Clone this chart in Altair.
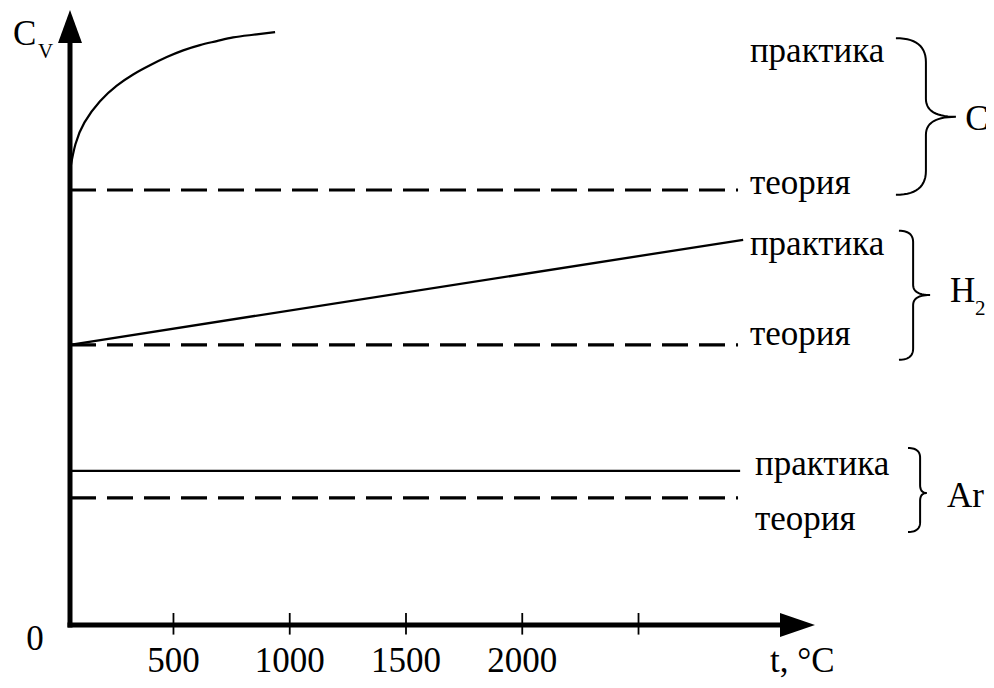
import altair as alt
import pandas as pd

# ---------------- plot geometry (data domain of the drawing) ----------------
T_MIN, T_MAX = 55, 3259        # t axis, °C (origin sits at the vertical axis)
V_MIN, V_MAX = 0, 102.5        # Cv, arbitrary units
W, H = 745, 615

# ---------------- data ----------------
# CO2
co2_prac_t = [55, 76, 111, 184, 257, 326, 399, 472, 541, 614, 687, 756, 829, 937]
co2_prac_v = [75.8, 80.3, 83.7, 87.5, 90.0, 91.8, 93.3, 94.7, 95.8, 96.7, 97.3, 98.0, 98.3, 98.8]
co2_theo_t = [55, 2928]
co2_theo_v = [72.5, 72.5]
# H2
h2_prac_t = [55, 2950]
h2_prac_v = [46.7, 64.2]
h2_theo_t = [55, 2928]
h2_theo_v = [46.7, 46.7]
# Ar
ar_prac_t = [55, 2937]
ar_prac_v = [25.7, 25.7]
ar_theo_t = [55, 2928]
ar_theo_v = [21.2, 21.2]

# x ticks
tick_values = [500, 1000, 1500, 2000, 2500]
tick_labels = ["500", "1000", "1500", "2000", ""]

# curve labels (text, t, v of baseline-left)
curve_label_text = ["практика", "теория", "практика", "теория", "практика", "теория"]
curve_label_t = [2979, 2979, 2979, 2979, 3001, 3001]
curve_label_v = [93.8, 71.8, 61.7, 46.7, 25.0, 15.8]

# braces: gas, v top, v bottom, v tip, t left, t stem, t tip
brace_gas = ["CO2", "H2", "Ar"]
brace_v_top = [97.8, 65.7, 29.5]
brace_v_bot = [71.7, 44.2, 15.5]
brace_v_tip = [84.7, 55.0, 22.0]
brace_t_left = [3607, 3620, 3659]
brace_t_stem = [3736, 3681, 3711]
brace_t_tip = [3865, 3754, 3740]

# gas names next to braces (big part, small subscript)
gas_text = ["CO", "H", "Ar"]
gas_t = [3905, 3840, 3827]
gas_v = [82.5, 53.8, 19.7]
gas_sub_text = ["2", "2"]
gas_sub_t = [4170, 3947]
gas_sub_v = [80.3, 51.7]

# axis captions
cap_left_text = ["C", "t, °C"]
cap_left_t = [-190, 3066]
cap_left_v = [96.7, -7.8]
origin_text = ["0"]
origin_t = [-95]
origin_v = [-4.2]
cap_sub_text = ["V"]
cap_sub_t = [-83]
cap_sub_v = [94.5]

tick_label_v = -7.8
tick_top_v, tick_bot_v = 2.0, -1.6

FONT = "Liberation Serif"
BIG = 35
SMALL = 21

# ---------------- helpers ----------------
kx = W / (T_MAX - T_MIN)
ky = H / (V_MAX - V_MIN)
def sx(t): return (t - T_MIN) * kx
def sy(v): return (V_MAX - v) * ky
def it(px): return px / kx + T_MIN
def iv(py): return V_MAX - py / ky

xs = alt.Scale(domain=[T_MIN, T_MAX], nice=False, zero=False)
ys = alt.Scale(domain=[V_MIN, V_MAX], nice=False, zero=False)
def X(f="t"): return alt.X(f"{f}:Q", scale=xs, axis=None)
def Y(f="v"): return alt.Y(f"{f}:Q", scale=ys, axis=None)

def series(name, ts, vs):
    return pd.DataFrame({"series": name, "t": ts, "v": vs, "i": list(range(len(ts)))})

curve = series("CO2 практика", co2_prac_t, co2_prac_v)
straight = pd.concat([
    series("H2 практика", h2_prac_t, h2_prac_v),
    series("Ar практика", ar_prac_t, ar_prac_v),
], ignore_index=True)
dashed = pd.concat([
    series("CO2 теория", co2_theo_t, co2_theo_v),
    series("H2 теория", h2_theo_t, h2_theo_v),
    series("Ar теория", ar_theo_t, ar_theo_v),
], ignore_index=True)

# braces built from their measured extents
def quad(p0, c, p1, n=14):
    pts = []
    for k in range(1, n + 1):
        s = k / n
        x = (1 - s) ** 2 * p0[0] + 2 * (1 - s) * s * c[0] + s ** 2 * p1[0]
        y = (1 - s) ** 2 * p0[1] + 2 * (1 - s) * s * c[1] + s ** 2 * p1[1]
        pts.append((x, y))
    return pts

rows = []
for g, vt, vb, vm, tl, ts_, tt in zip(brace_gas, brace_v_top, brace_v_bot, brace_v_tip,
                                       brace_t_left, brace_t_stem, brace_t_tip):
    L, S, T = sx(tl), sx(ts_), sx(tt)
    top, bot, mid = sy(vt), sy(vb), sy(vm)
    r = max(0.8 * (S - L), 9)
    r2 = max(0.6 * (T - S), 8)
    pts = [(L, top)]
    pts += quad((L, top), (S, top), (S, top + r))
    pts += [(S, mid - r2)]
    pts += quad((S, mid - r2), (S, mid), (T, mid))
    pts += quad((T, mid), (S, mid), (S, mid + r2))
    pts += [(S, bot - r)]
    pts += quad((S, bot - r), (S, bot), (L, bot))
    for i, (px, py) in enumerate(pts):
        rows.append({"gas": g, "i": i, "t": round(it(px), 2), "v": round(iv(py), 3)})
braces = pd.DataFrame(rows)

# ---------------- layers ----------------
curve_layer = alt.Chart(curve).mark_line(color="black", strokeWidth=2.2, interpolate="basis").encode(
    x=X(), y=Y(), order="i:Q")
straight_layer = alt.Chart(straight).mark_line(color="black", strokeWidth=2.3).encode(
    x=X(), y=Y(), detail="series:N", order="i:Q")
dashed_layer = alt.Chart(dashed).mark_line(color="black", strokeWidth=3.2, strokeDash=[26, 11]).encode(
    x=X(), y=Y(), detail="series:N", order="i:Q")
brace_layer = alt.Chart(braces).mark_line(color="black", strokeWidth=2).encode(
    x=X(), y=Y(), detail="gas:N", order="i:Q")

axes_df = pd.DataFrame({"t": [T_MIN, T_MIN], "v": [V_MIN, V_MIN],
                        "t2": [T_MIN, round(it(sx(T_MAX) - 34), 2)],
                        "v2": [round(iv(sy(V_MAX) + 33), 3), V_MIN]})
axes_layer = alt.Chart(axes_df).mark_rule(color="black", strokeWidth=5, strokeCap="square").encode(
    x=X(), y=Y(), x2="t2:Q", y2="v2:Q")

arrow_df = pd.DataFrame({"t": [T_MIN, T_MAX], "v": [V_MAX, V_MIN],
                         "shape": ["M -12 33 L 12 33 L 0 0 Z", "M -35 -12 L -35 12 L 0 0 Z"]})
arrow_layer = alt.Chart(arrow_df).mark_point(filled=True, color="black", opacity=1, size=4, strokeWidth=0).encode(
    x=X(), y=Y(), shape=alt.Shape("shape:N", scale=None))

ticks_df = pd.DataFrame({"t": tick_values, "label": tick_labels,
                         "vt": tick_top_v, "vb": tick_bot_v, "vl": tick_label_v})
tick_layer = alt.Chart(ticks_df).mark_rule(color="black", strokeWidth=1.8).encode(
    x=X(), y=Y("vt"), y2="vb:Q")
tick_text = alt.Chart(ticks_df).mark_text(font=FONT, fontSize=BIG, baseline="alphabetic", align="center").encode(
    x=X(), y=Y("vl"), text="label:N")

def text_layer(texts, ts, vs, size, align="left"):
    df = pd.DataFrame({"text": texts, "t": ts, "v": vs})
    return alt.Chart(df).mark_text(font=FONT, fontSize=size, align=align, baseline="alphabetic").encode(
        x=X(), y=Y(), text="text:N")

lab_layer = text_layer(curve_label_text, curve_label_t, curve_label_v, BIG)
gas_layer = text_layer(gas_text, gas_t, gas_v, BIG)
gsub_layer = text_layer(gas_sub_text, gas_sub_t, gas_sub_v, SMALL)
cap_layer = text_layer(cap_left_text, cap_left_t, cap_left_v, BIG)
origin_layer = text_layer(origin_text, origin_t, origin_v, BIG, "center")
csub_layer = text_layer(cap_sub_text, cap_sub_t, cap_sub_v, SMALL)

chart = alt.layer(
    dashed_layer, curve_layer, straight_layer, brace_layer, axes_layer, arrow_layer, tick_layer, tick_text,
    lab_layer, gas_layer, gsub_layer, cap_layer, origin_layer, csub_layer
).properties(
    width=W, height=H,
    padding={"left": 62, "top": 2, "right": 171, "bottom": 55},
    autosize=alt.AutoSizeParams(type="none"),
    background="white",
).configure_view(stroke=None)

chart.save("out.html", embed_options={"renderer": "svg", "actions": False})
